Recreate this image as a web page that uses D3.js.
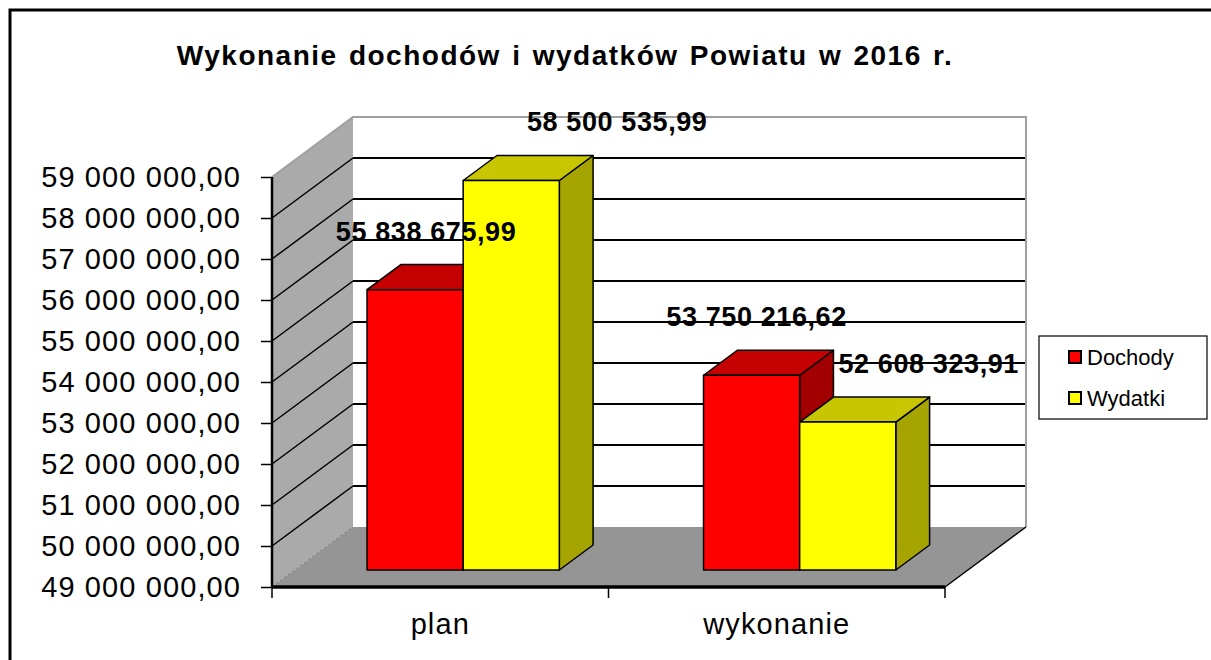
<!DOCTYPE html>
<html>
<head>
<meta charset="utf-8">
<script src="https://cdn.jsdelivr.net/npm/d3@7"></script>
<style>
  body { margin: 0; background: #fff; }
  text { font-family: Arial, "Liberation Sans", sans-serif; }
</style>
</head>
<body>
<div id="chart"></div>
<script>
// Data
const title = 'Wykonanie dochodów i wydatków Powiatu w 2016 r.'
const categories = ['plan', 'wykonanie']
const series = ['Dochody', 'Wydatki']
const dochody = [55838675.99, 53750216.62]
const wydatki = [58500535.99, 52608323.91]
const yTicks = [49e6, 50e6, 51e6, 52e6, 53e6, 54e6, 55e6, 56e6, 57e6, 58e6, 59e6]

function draw() {
  const width = 1211, height = 660
  // 3D depth of the plot box and of the bars (fractions of depth)
  const depth = { dx: 81, dy: -60 }
  const barDepth = [0.283, 0.70]

  const colors = {
    Dochody: { front: '#ff0000', top: '#c40000', side: '#a20000' },
    Wydatki: { front: '#ffff00', top: '#c8c600', side: '#a6a400' },
  }

  const svg = d3.select('#chart')
    .append('svg')
    .attr('width', width)
    .attr('height', height)

  // outer frame
  svg.append('rect')
    .attr('x', 10).attr('y', 10)
    .attr('width', 1300).attr('height', 800)
    .attr('fill', '#fff')
    .attr('stroke', '#000')
    .attr('stroke-width', 3)

  // Scales
  const x = d3.scaleBand()
    .domain(categories)
    .range([272, 945])
    .padding(0)

  const xSub = d3.scaleBand()
    .domain(series)
    .range([0, x.bandwidth()])
    .paddingInner(0)
    .paddingOuter(0.75)

  const y = d3.scaleLinear()
    .domain([49e6, 59e6])
    .range([587, 177])

  const [x0, x1] = x.range()
  const [yBot, yTop] = y.range()
  const pt = (px, py, f) => [px + depth.dx * f, py + depth.dy * f]

  const walls = svg.append('g')
  // left wall
  walls.append('path')
    .attr('d', d3.line()([[x0, yBot], [x0, yTop], pt(x0, yTop, 1), pt(x0, yBot, 1)]))
    .attr('fill', '#aaaaaa')
  // back wall
  walls.append('path')
    .attr('d', d3.line()([pt(x0, yTop, 1), pt(x1, yTop, 1), pt(x1, yBot, 1), pt(x0, yBot, 1)]))
    .attr('fill', '#fff')
  // floor
  walls.append('path')
    .attr('d', d3.line()([[x0, yBot], [x1, yBot], pt(x1, yBot, 1), pt(x0, yBot, 1)]))
    .attr('fill', '#959595')
  walls.append('line')
    .attr('x1', x0).attr('y1', yBot)
    .attr('x2', pt(x0, yBot, 1)[0]).attr('y2', pt(x0, yBot, 1)[1])
    .attr('stroke', '#7a7a7a')
    .attr('stroke-dasharray', '3,2')

  // gridlines (back wall + left wall)
  const grid = svg.append('g')
  const inner = yTicks.slice(1, -1)
  grid.selectAll('.gb')
    .data(inner)
    .join('line')
    .attr('x1', pt(x0, 0, 1)[0])
    .attr('x2', pt(x1, 0, 1)[0])
    .attr('y1', d => pt(0, y(d), 1)[1])
    .attr('y2', d => pt(0, y(d), 1)[1])
    .attr('stroke', '#000')
    .attr('stroke-width', 2)
  grid.selectAll('.gl')
    .data(inner)
    .join('line')
    .attr('x1', x0)
    .attr('y1', d => y(d))
    .attr('x2', pt(x0, 0, 1)[0])
    .attr('y2', d => pt(0, y(d), 1)[1])
    .attr('stroke', '#000')
    .attr('stroke-width', 1.5)
  // wall edges
  grid.append('path')
    .attr('d', d3.line()([[x0, yTop], pt(x0, yTop, 1), pt(x1, yTop, 1), pt(x1, yBot, 1)]))
    .attr('fill', 'none')
    .attr('stroke', '#a0a0a0')
    .attr('stroke-width', 2)
  grid.append('line')
    .attr('x1', x1).attr('y1', yBot)
    .attr('x2', pt(x1, yBot, 1)[0]).attr('y2', pt(x1, yBot, 1)[1])
    .attr('stroke', '#000')
    .attr('stroke-width', 1.5)

  // Bars
  const bars = []
  categories.forEach((c, i) => {
    bars.push({ cat: c, ser: 'Dochody', value: dochody[i] })
    bars.push({ cat: c, ser: 'Wydatki', value: wydatki[i] })
  })

  const barG = svg.append('g')
    .attr('stroke', '#000')
    .attr('stroke-width', 1.5)
    .attr('stroke-linejoin', 'round')

  bars.forEach(b => {
    const bx0 = x(b.cat) + xSub(b.ser)
    const bx1 = bx0 + xSub.bandwidth()
    const f0 = barDepth[0], f1 = barDepth[1]
    const top = y(b.value), bot = y.domain()[0]
    const A = pt(bx0, top, f0), B = pt(bx1, top, f0)
    const C = pt(bx1, y(bot), f0), D = pt(bx0, y(bot), f0)
    const B2 = pt(bx1, top, f1), A2 = pt(bx0, top, f1), C2 = pt(bx1, y(bot), f1)
    const col = colors[b.ser]
    barG.append('path').attr('d', d3.line()([B, B2, C2, C]) + 'Z').attr('fill', col.side)
    barG.append('path').attr('d', d3.line()([A, A2, B2, B]) + 'Z').attr('fill', col.top)
    barG.append('path').attr('d', d3.line()([A, B, C, D]) + 'Z').attr('fill', col.front)
    b.cx = (A[0] + B[0]) / 2
    b.top = A[1]
  })

  // Axes
  const yAxis = d3.axisLeft(y)
    .tickValues(yTicks)
    .tickSize(11)
    .tickPadding(20)
    .tickFormat(d => plFormat(d))
  svg.append('g')
    .attr('transform', `translate(${x0}, 0)`)
    .call(yAxis)
    .call(g => g.select('.domain').attr('stroke-width', 2.5).attr('d', `M0,${yTop}V${yBot}`))
    .call(g => g.selectAll('.tick line').attr('stroke-width', 1.5))
    .call(g => g.selectAll('.tick text')
      .attr('font-size', 29)
      .attr('letter-spacing', 1.1)
      .attr('fill', '#000'))

  const xAxis = d3.axisBottom(x)
    .tickSize(0)
    .tickPadding(26)
  svg.append('g')
    .attr('transform', `translate(0, ${yBot})`)
    .call(xAxis)
    .call(g => g.select('.domain').attr('stroke-width', 3.5).attr('d', `M${x0},0H${x1}`))
    .call(g => g.selectAll('.tick text')
      .attr('font-size', 29)
      .attr('letter-spacing', 1.1)
      .attr('fill', '#000'))
  svg.append('g')
    .selectAll('line')
    .data([x0, ...categories.map(c => x(c) + x.bandwidth())])
    .join('line')
    .attr('x1', d => d).attr('x2', d => d)
    .attr('y1', yBot).attr('y2', yBot + 11)
    .attr('stroke', '#000')
    .attr('stroke-width', 1.5)

  // Data labels
  const labelNudge = [11, 106, 5, 81]
  svg.append('g')
    .selectAll('text')
    .data(bars)
    .join('text')
    .attr('x', (d, i) => d.cx + labelNudge[i])
    .attr('y', d => d.top - 58)
    .attr('text-anchor', 'middle')
    .attr('dominant-baseline', 'central')
    .attr('font-size', 27)
    .attr('letter-spacing', 0.6)
    .attr('font-weight', 'bold')
    .attr('fill', '#000')
    .text(d => plFormat(d.value))

  // Title
  svg.append('text')
    .attr('x', 565)
    .attr('y', 55)
    .attr('text-anchor', 'middle')
    .attr('dominant-baseline', 'central')
    .attr('font-size', 28)
    .attr('font-weight', 'bold')
    .attr('letter-spacing', 1.5)
    .attr('word-spacing', 2)
    .text(title)

  // Legend
  const legend = svg.append('g').attr('transform', 'translate(1039, 336)')
  legend.append('rect')
    .attr('width', 168).attr('height', 83)
    .attr('fill', '#fff')
    .attr('stroke', '#000')
    .attr('stroke-width', 1.2)
  const items = legend.selectAll('g')
    .data(series)
    .join('g')
    .attr('transform', (d, i) => `translate(30, ${21 + i * 41})`)
  items.append('rect')
    .attr('x', 0).attr('y', -6)
    .attr('width', 12).attr('height', 12)
    .attr('fill', d => colors[d].front)
    .attr('stroke', '#000')
    .attr('stroke-width', 2)
  items.append('text')
    .attr('x', 18)
    .attr('dominant-baseline', 'central')
    .attr('font-size', 22)
    .text(d => d)
}

const plLocale = d3.formatLocale({ decimal: ',', thousands: ' ', grouping: [3], currency: ['', ''] })
const plFormat = plLocale.format(',.2f')

draw()
</script>
</body>
</html>
